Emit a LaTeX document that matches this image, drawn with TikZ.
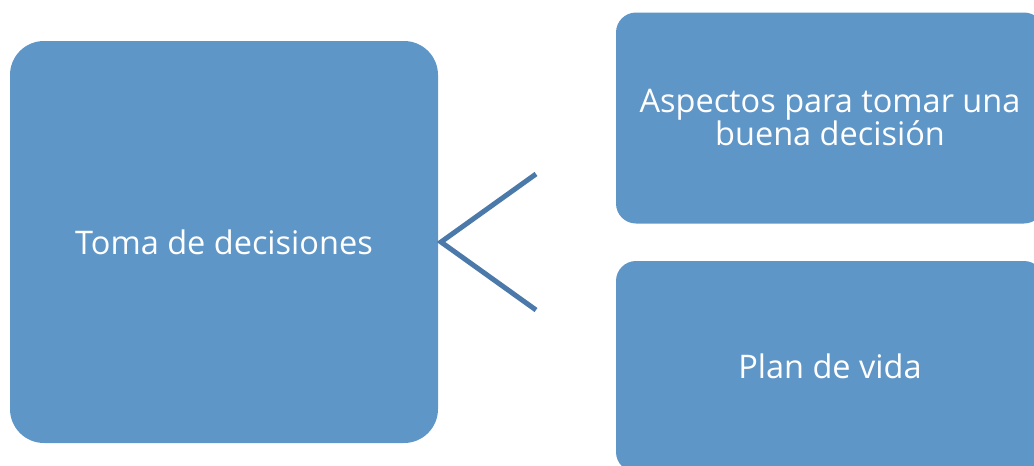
\documentclass[tikz,border=0pt]{standalone}
\usepackage{fontspec}
\setmainfont{Open Sans}
\definecolor{boxblue}{HTML}{5F96C8}
\definecolor{lineblue}{HTML}{4B79A9}
\tikzset{
  box/.style={fill=boxblue, draw=none, text=white, align=center, inner sep=0pt,
    font=\fontsize{32.5}{33}\selectfont},
  conn/.style={draw=lineblue, line width=5pt, line cap=butt, line join=miter}
}
\begin{document}
\begin{tikzpicture}[x=1pt,y=-1pt]
\useasboundingbox (0,0) rectangle (1034,466);
\clip (0,0) rectangle (1034,466);
\node[box, minimum width=428pt, minimum height=402pt, rounded corners=34pt] (left) at (224,242) {Toma de decisiones};
\node[box, minimum width=428pt, minimum height=211pt, rounded corners=20pt] (top) at (830,118) {Aspectos para tomar una\\buena decisión};
\node[box, minimum width=428pt, minimum height=211pt, rounded corners=20pt] (bot) at (830,366.5) {Plan de vida};
\coordinate (c1) at (536,174);
\coordinate (c2) at (536,310);
\coordinate (v) at (441,242);
\draw[conn] (c1) -- (v) -- (c2);
\end{tikzpicture}
\end{document}
